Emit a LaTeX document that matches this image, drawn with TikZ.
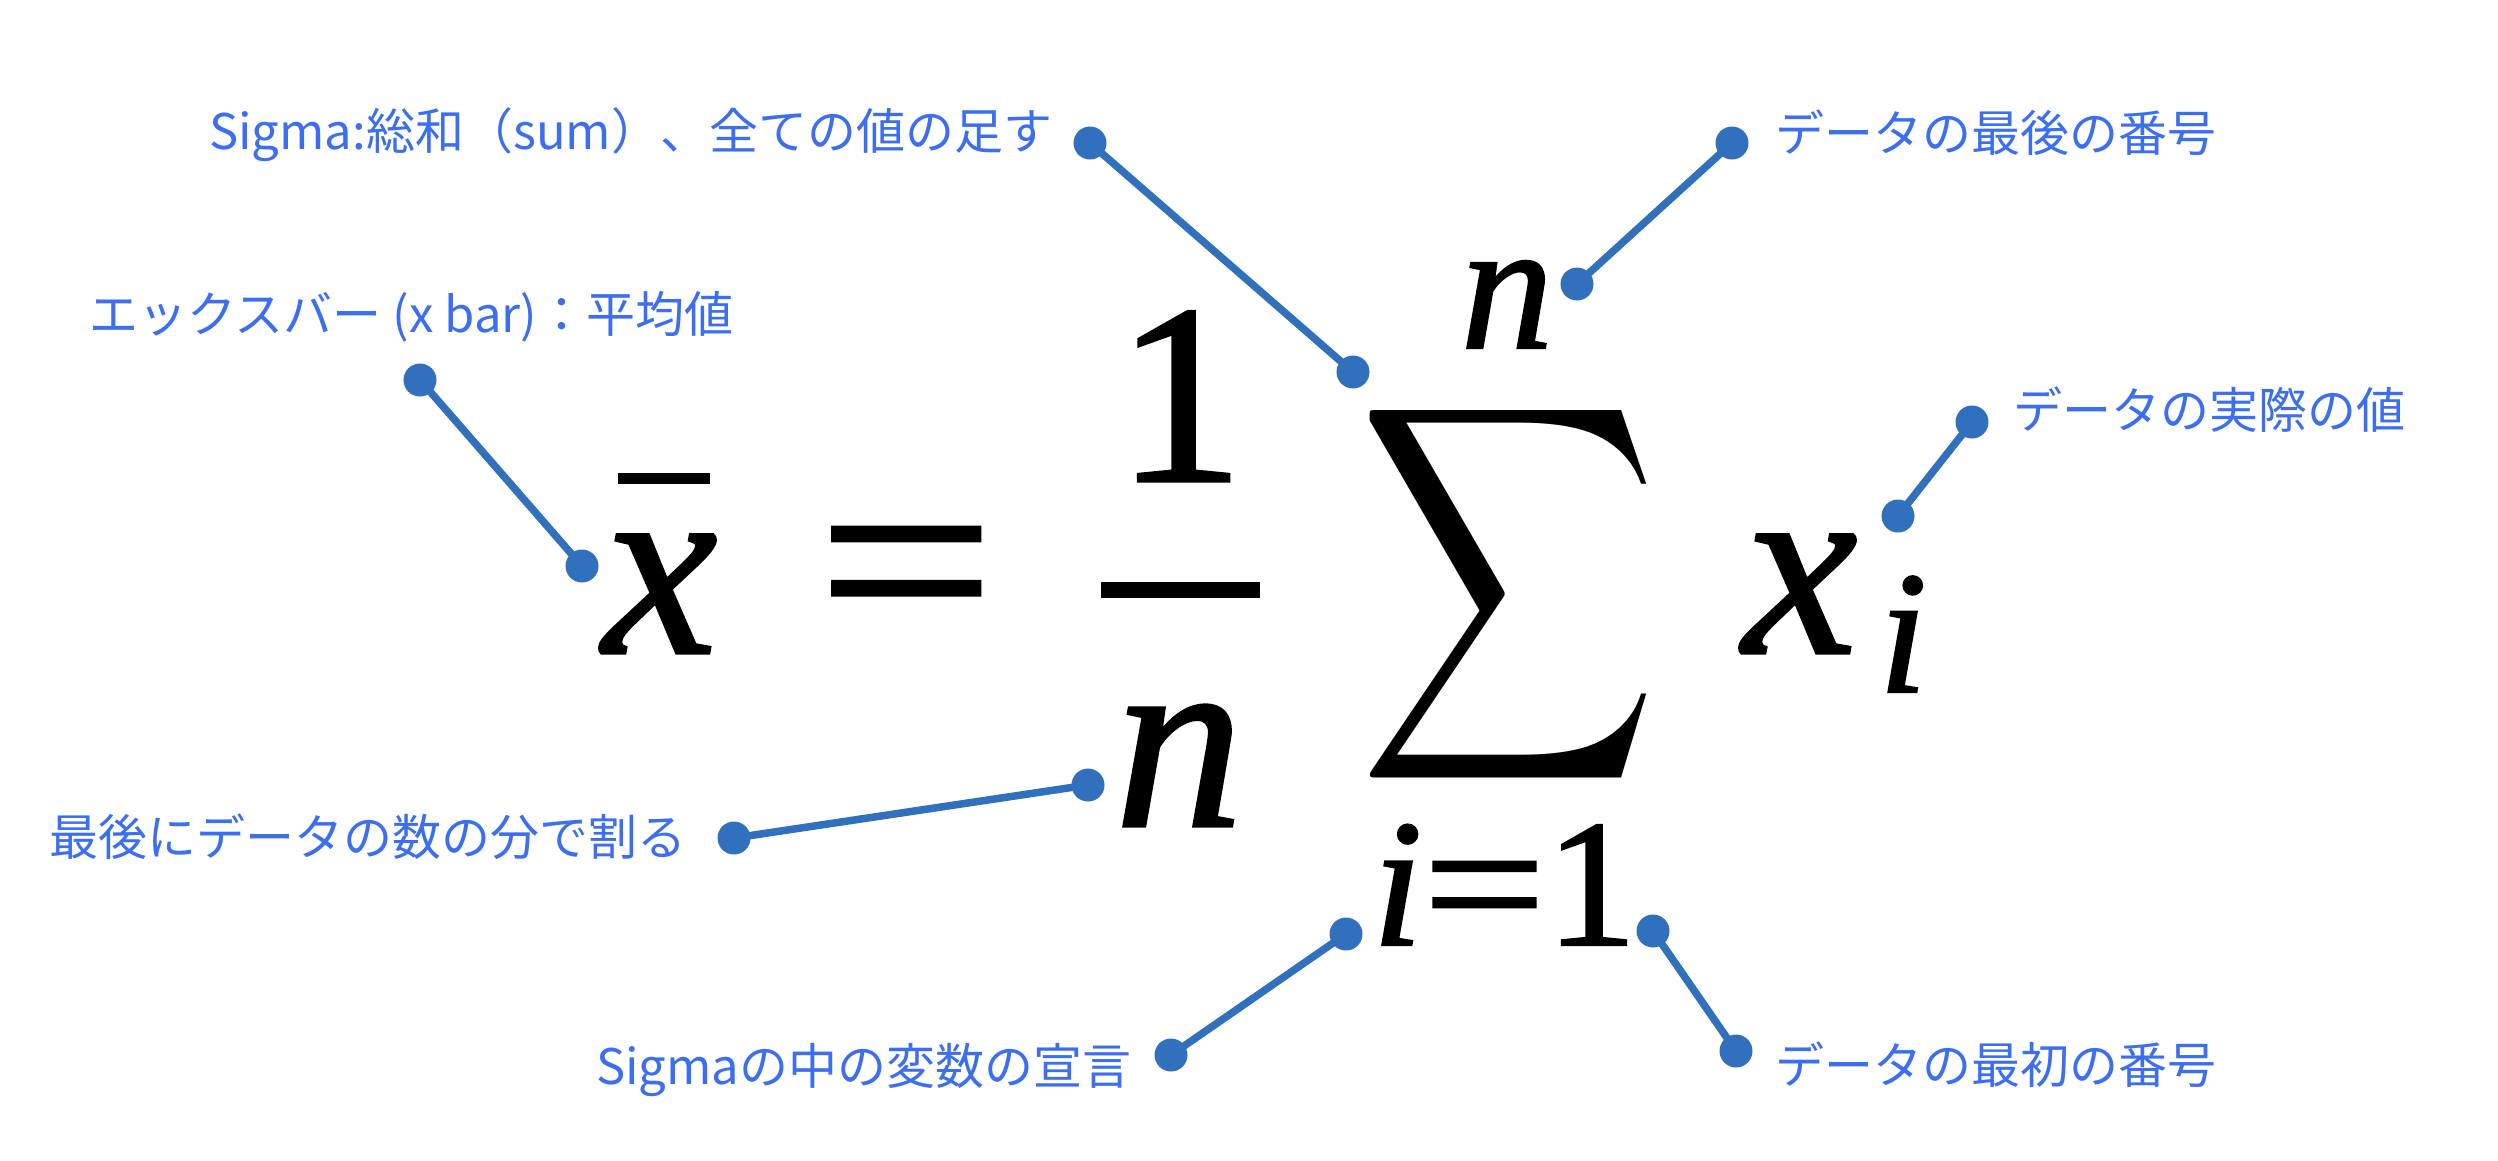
\documentclass[tikz,border=0pt]{standalone}
\usepackage{fontspec}
\usepackage{graphicx}
\newfontfamily\jpfont{Noto Sans CJK JP}
\newfontfamily\gserif{Liberation Serif}[FakeBold=1.2]
\newcommand{\gmit}[1]{\gserif\itshape\fontsize{#1}{#1}\selectfont}
\newcommand{\gmup}[1]{\gserif\upshape\fontsize{#1}{#1}\selectfont}
\definecolor{lbl}{RGB}{59,110,240}
\definecolor{pin}{RGB}{49,112,188}
\begin{document}
\begin{tikzpicture}[x=1pt,y=-1pt,
  labeltext/.style={anchor=base west, inner sep=0pt, text=lbl, font=\jpfont\fontsize{49}{58}\selectfont},
  pinline/.style={draw=pin, line width=7.5pt},
  pindot/.style={circle, fill=pin, inner sep=0pt, minimum size=33pt},
  glyph/.style={anchor=base, inner sep=0pt, text=black}]
\fill[white] (0,0) rectangle (2498,1160);
\useasboundingbox (0,0) rectangle (2498,1160);

% formula
\node[glyph, font=\gmit{258}] (xb) at (660,653) {x};
\fill (618,473) rectangle (710,484);
\node[glyph, font=\gmup{258}] (eq) at (906,651) {\scalebox{1.22}[1.05]{=}};
\node[glyph, font=\gmup{257}] (one) at (1180,481) {1};
\fill (1101,582) rectangle (1260,598);
\node[glyph, font=\gmit{257}] (nden) at (1179,826) {n};
\node[inner sep=0pt, anchor=center] (sum) at (1509,594) {\resizebox*{300pt}{420pt}{$\displaystyle\sum$}};
\node[glyph, font=\gmit{185}] (nsup) at (1507,348) {n};
\node[anchor=base west, inner sep=0pt, font=\gmup{182}] (low) at (1372,945) {{\itshape i}\scalebox{1.2}[1]{=}1};
\node[glyph, font=\gmit{258}] (xi) at (1800,653) {x};
\node[glyph, font=\gmit{175}] (isub) at (1903,692) {i};

% labels
\node[labeltext] (t1) at (209,149) {Sigma:総和（sum）、全ての値の足す};
\node[labeltext] (t2) at (1775,151) {データの最後の番号};
\node[labeltext] (t3) at (2013,428) {データの実際の値};
\node[labeltext] (t4) at (89,332) {エックスバー (x bar)：平均値};
\node[labeltext] (t5) at (49,855) {最後にデータの数の分で割る};
\node[labeltext] (t6) at (596,1084) {Sigmaの中の変数の宣言};
\node[labeltext] (t7) at (1775,1083) {データの最初の番号};

% pins
\node[pindot] (a1) at (1090,143) {};
\node[pindot] (a2) at (1353,372) {};
\node[pindot] (b1) at (1732,143) {};
\node[pindot] (b2) at (1577,284) {};
\node[pindot] (c1) at (1972,422) {};
\node[pindot] (c2) at (1898,516) {};
\node[pindot] (d1) at (420,380) {};
\node[pindot] (d2) at (582,566) {};
\node[pindot] (e1) at (734,838) {};
\node[pindot] (e2) at (1088,785) {};
\node[pindot] (f1) at (1171,1055) {};
\node[pindot] (f2) at (1346,934) {};
\node[pindot] (g1) at (1736,1051) {};
\node[pindot] (g2) at (1653,931) {};
\draw[pinline] (a1.center) -- (a2.center);
\draw[pinline] (b1.center) -- (b2.center);
\draw[pinline] (c1.center) -- (c2.center);
\draw[pinline] (d1.center) -- (d2.center);
\draw[pinline] (e1.center) -- (e2.center);
\draw[pinline] (f1.center) -- (f2.center);
\draw[pinline] (g1.center) -- (g2.center);
\end{tikzpicture}
\end{document}
